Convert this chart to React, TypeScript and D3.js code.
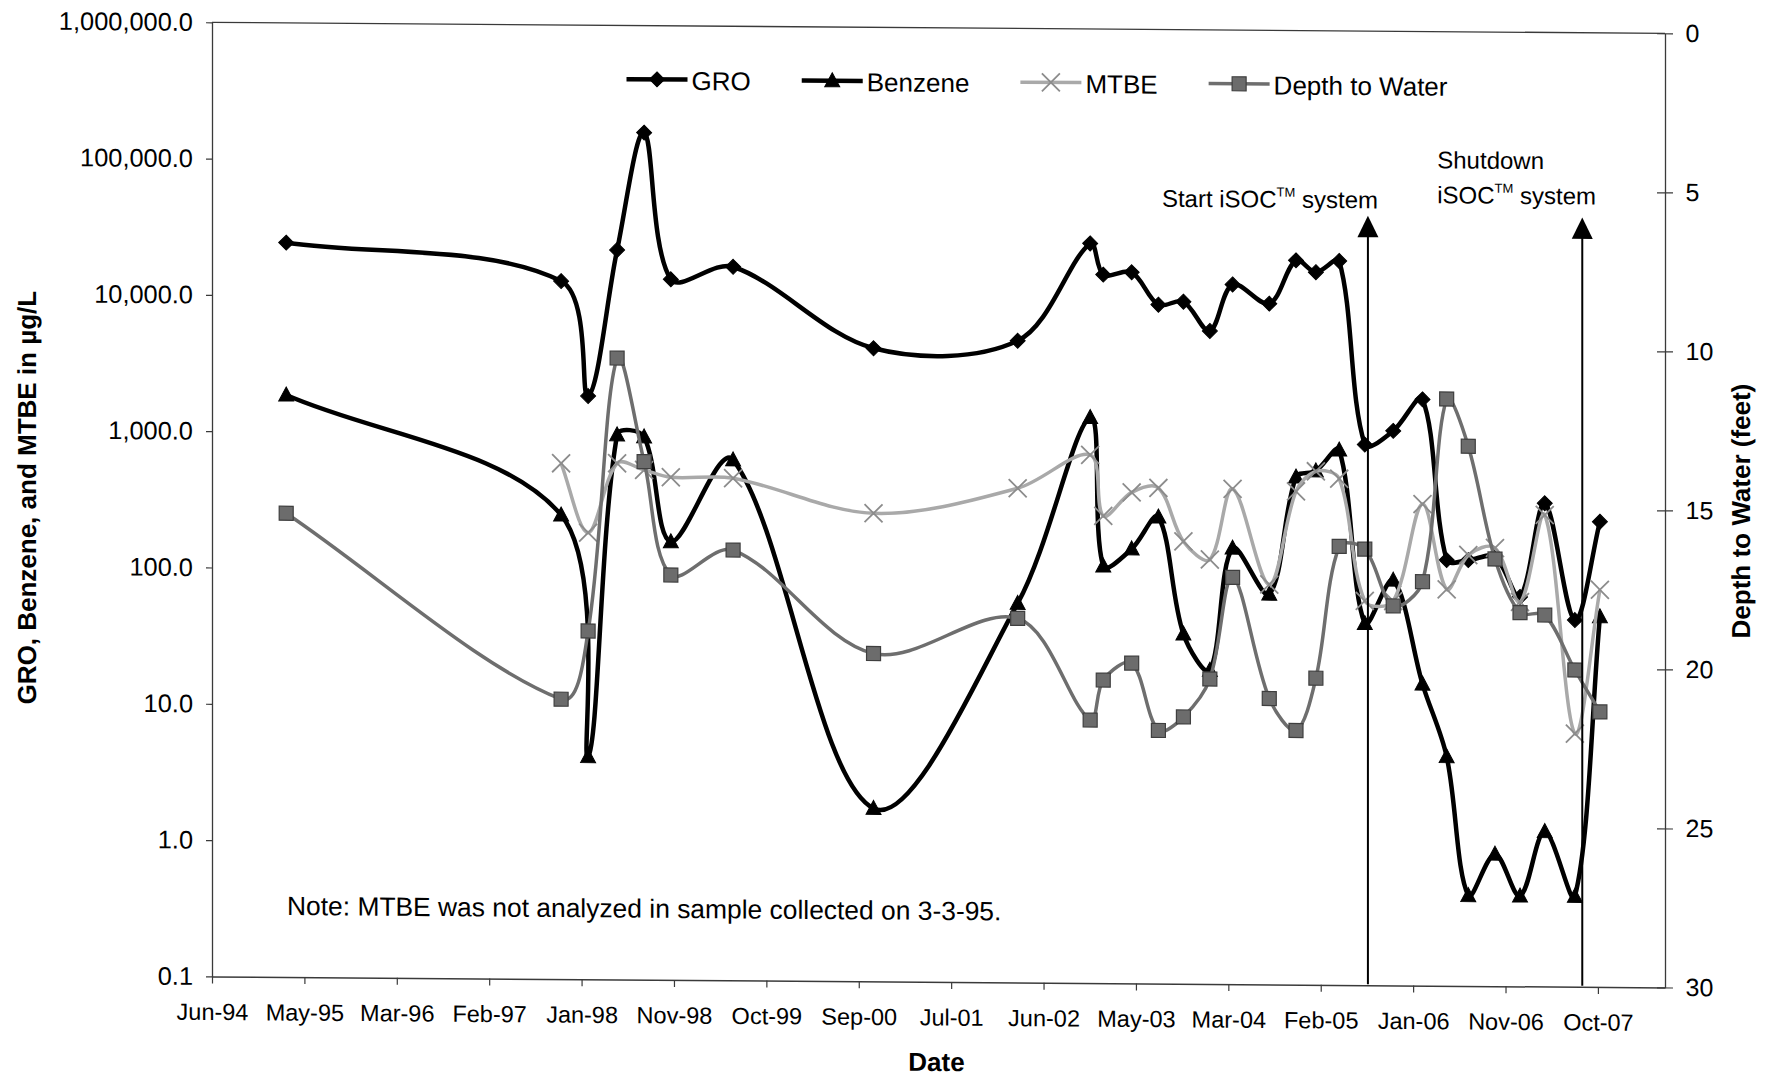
import { useEffect, useRef } from 'react';
import * as d3 from 'd3';

type Num = number | null;

// Monitoring events
const sampleDates = [
  '1995-03-03', '1997-10-25', '1998-01-28', '1998-05-10', '1998-08-13',
  '1998-11-15', '1999-06-22', '2000-10-28', '2002-03-19', '2002-11-29',
  '2003-01-14', '2003-04-24', '2003-07-27', '2003-10-23', '2004-01-24',
  '2004-04-13', '2004-08-20', '2004-11-22', '2005-01-31', '2005-04-23',
  '2005-07-22', '2005-10-30', '2006-02-10', '2006-05-06', '2006-07-21',
  '2006-10-23', '2007-01-19', '2007-04-16', '2007-07-31', '2007-10-27',
];

// ug/L
const groValues: Num[] = [
  24400, 13200, 1900, 22500, 164000, 13800, 17200, 4420, 5110, 26700,
  15800, 16500, 9570, 10100, 6180, 13600, 9880, 20600, 16900, 20500,
  925, 1170, 2000, 133, 133, 141, 72, 351, 49, 259,
];
const benzeneValues: Num[] = [
  1860, 254, 4.3, 990, 960, 164, 658, 1.86, 60.5, 1410,
  115, 154, 265, 36.8, 20, 158, 73, 530, 589, 841,
  45, 94, 16.3, 4.8, 0.46, 0.93, 0.46, 1.37, 0.46, 52,
];
// MTBE not analyzed on 3-3-95
const mtbeValues: Num[] = [
  null, 608, 189, 613, 549, 487, 483, 272, 423, 750,
  268, 400, 433, 176, 130, 430, 86, 416, 585, 518,
  66, 66, 341, 81, 145, 164, 66, 288, 7.2, 82,
];
// feet
const depthValues: Num[] = [
  15.42, 21.2, 19.05, 10.46, 13.71, 17.27, 16.47, 19.69, 18.55, 21.73,
  20.47, 19.93, 22.04, 21.61, 20.41, 17.21, 21.01, 22.01, 20.36, 16.21,
  16.29, 18.07, 17.3, 11.55, 13.03, 16.57, 18.25, 18.32, 20.04, 21.35,
];

const xTickLabels = [
  'Jun-94', 'May-95', 'Mar-96', 'Feb-97', 'Jan-98', 'Nov-98', 'Oct-99', 'Sep-00',
  'Jul-01', 'Jun-02', 'May-03', 'Mar-04', 'Feb-05', 'Jan-06', 'Nov-06', 'Oct-07',
];
const concTicks = [0.1, 1, 10, 100, 1000, 10000, 100000, 1000000];
const depthTicks = [0, 5, 10, 15, 20, 25, 30];

// iSOC start / shutdown
const eventDates = ['2005-08-02', '2007-08-26'];

// date axis settings (Excel-like: fixed min, major unit in days)
const AXIS_START = '1994-06-15';
const AXIS_END = '2008-06-12';
const TICK_STEP_DAYS = 325;

const W = 1770;
const H = 1077;
const M = { left: 212, top: 22.3, right: 1665, bottom: 976.4 };
const SKEW = 0.435; // the scanned original is slightly sheared
const FONT = '"Liberation Sans", Arial, Helvetica, sans-serif';
const AXIS_COLOR = '#3a3a3a';
const ARROW_TIP_Y = 207;

const MARKERS: Record<string, { d: string; fill: string; stroke: string; sw: number }> = {
  diamond: { d: 'M0,-7.5L7.5,0L0,7.5L-7.5,0Z', fill: '#000', stroke: '#000', sw: 1 },
  triangle: { d: 'M0,-8L7.5,6L-7.5,6Z', fill: '#000', stroke: '#000', sw: 1 },
  cross: { d: 'M-9,-9L9,9M-9,9L9,-9', fill: 'none', stroke: '#8c8c8c', sw: 1.8 },
  square: { d: 'M-7,-7H7V7H-7Z', fill: '#6c6c6c', stroke: '#3f3f3f', sw: 1.2 },
};

const SERIES = [
  { name: 'GRO', values: groValues, axis: 'conc', stroke: '#000', width: 4.5, marker: 'diamond' },
  { name: 'Benzene', values: benzeneValues, axis: 'conc', stroke: '#000', width: 4.5, marker: 'triangle' },
  { name: 'MTBE', values: mtbeValues, axis: 'conc', stroke: '#a9a9a9', width: 3.5, marker: 'cross' },
  { name: 'Depth to Water', values: depthValues, axis: 'depth', stroke: '#6e6e6e', width: 3.5, marker: 'square' },
];

// Excel-style smoothed line: Catmull-Rom tangents, split by neighbouring segment lengths
// so a short segment next to a long jump doesn't balloon out.
const smoothPath = (pts: [number, number][]) => {
  const n = pts.length;
  if (n < 2) return '';
  const f = 1 / 3;
  const ctrl = pts.map((p, i) => {
    const prev = pts[Math.max(0, i - 1)];
    const next = pts[Math.min(n - 1, i + 1)];
    const d01 = Math.hypot(p[0] - prev[0], p[1] - prev[1]);
    const d12 = Math.hypot(next[0] - p[0], next[1] - p[1]);
    const tx = next[0] - prev[0];
    const ty = next[1] - prev[1];
    const s = d01 + d12 || 1;
    return {
      cin: [p[0] - (tx * f * d01) / s, p[1] - (ty * f * d01) / s],
      cout: [p[0] + (tx * f * d12) / s, p[1] + (ty * f * d12) / s],
    };
  });
  let d = `M${pts[0][0]},${pts[0][1]}`;
  for (let i = 0; i < n - 1; i++) {
    const a = ctrl[i].cout;
    const b = ctrl[i + 1].cin;
    d += `C${a[0]},${a[1]},${b[0]},${b[1]},${pts[i + 1][0]},${pts[i + 1][1]}`;
  }
  return d;
};

const App = () => {
  const ref = useRef<SVGSVGElement | null>(null);

  useEffect(() => {
    document.body.style.margin = '0';
    if (!ref.current) return;
    const svg = d3.select(ref.current);
    svg.selectAll('*').remove();

    const parse = d3.timeParse('%Y-%m-%d');
    const axisStart = parse(AXIS_START) as Date;

    const x = d3.scaleTime()
      .domain([axisStart, parse(AXIS_END) as Date])
      .range([M.left, M.right]);
    const yConc = d3.scaleLog().domain([0.1, 1e6]).range([M.bottom, M.top]);
    const yDepth = d3.scaleLinear().domain([0, 30]).range([M.top, M.bottom]);

    const root = svg.append('g')
      .attr('transform', `translate(${M.left},${M.top}) skewY(${SKEW}) translate(${-M.left},${-M.top})`)
      .style('font-family', FONT);

    // top border of the plot area
    root.append('line')
      .attr('x1', M.left).attr('x2', M.right)
      .attr('y1', M.top).attr('y2', M.top)
      .attr('stroke', AXIS_COLOR).attr('stroke-width', 1.3);

    // X axis
    const tickDates = xTickLabels.map((_, i) => d3.timeDay.offset(axisStart, i * TICK_STEP_DAYS));
    const gx = root.append('g')
      .attr('transform', `translate(0,${M.bottom})`)
      .call(d3.axisBottom(x)
        .tickValues(tickDates)
        .tickFormat((_, i) => xTickLabels[i])
        .tickSizeInner(7)
        .tickSizeOuter(0));
    gx.attr('font-family', null).attr('font-size', null);
    gx.select('.domain').attr('stroke', AXIS_COLOR).attr('stroke-width', 1.5);
    gx.selectAll('.tick line').attr('stroke', AXIS_COLOR).attr('stroke-width', 1.2);
    gx.selectAll('.tick text')
      .attr('y', 43.6).attr('dy', 0).attr('fill', '#000')
      .style('font-size', '23.5px');

    // left (log) axis
    const gy = root.append('g')
      .attr('transform', `translate(${M.left},0)`)
      .call(d3.axisLeft(yConc)
        .tickValues(concTicks)
        .tickFormat(d => d3.format(',.1f')(d as number))
        .tickSizeInner(6)
        .tickSizeOuter(0)
        .tickPadding(13));
    gy.attr('font-family', null).attr('font-size', null);
    gy.select('.domain').attr('stroke', AXIS_COLOR).attr('stroke-width', 1.3);
    gy.selectAll('.tick line').attr('stroke', AXIS_COLOR).attr('stroke-width', 1.2);
    gy.selectAll('.tick text').attr('fill', '#000').style('font-size', '25.4px');

    // right (depth) axis, ticks cross the axis line
    const gr = root.append('g')
      .attr('transform', `translate(${M.right},0)`)
      .call(d3.axisRight(yDepth)
        .tickValues(depthTicks)
        .tickFormat(d3.format('d'))
        .tickSizeInner(8)
        .tickSizeOuter(0)
        .tickPadding(12.5));
    gr.attr('font-family', null).attr('font-size', null);
    gr.select('.domain').attr('stroke', AXIS_COLOR).attr('stroke-width', 1.3);
    gr.selectAll('.tick line').attr('x1', -8).attr('stroke', AXIS_COLOR).attr('stroke-width', 1.2);
    gr.selectAll('.tick text').attr('fill', '#000').style('font-size', '25px');

    // axis titles
    root.append('text')
      .attr('transform', 'translate(36.4,499) rotate(-90)')
      .attr('text-anchor', 'middle')
      .style('font-size', '26px').style('font-weight', 'bold')
      .text('GRO, Benzene, and MTBE in µg/L');
    root.append('text')
      .attr('transform', 'translate(1750,499.4) rotate(-90)')
      .attr('text-anchor', 'middle')
      .style('font-size', '26px').style('font-weight', 'bold')
      .text('Depth to Water (feet)');
    root.append('text')
      .attr('x', 936.5).attr('y', 1065.5)
      .attr('text-anchor', 'middle')
      .style('font-size', '26px').style('font-weight', 'bold')
      .text('Date');

    // series
    const drawMarker = (g: d3.Selection<SVGGElement, unknown, null, undefined>, kind: string, cx: number, cy: number) => {
      const m = MARKERS[kind];
      g.append('path')
        .attr('transform', `translate(${cx},${cy})`)
        .attr('d', m.d)
        .attr('fill', m.fill)
        .attr('stroke', m.stroke)
        .attr('stroke-width', m.sw);
    };

    SERIES.forEach(s => {
      const yS = s.axis === 'conc' ? yConc : yDepth;
      const g = root.append('g');
      // split into runs of measured values (gaps where not analyzed)
      const runs: [number, number][][] = [[]];
      sampleDates.forEach((d, i) => {
        const v = s.values[i];
        if (v == null) {
          if (runs[runs.length - 1].length) runs.push([]);
          return;
        }
        runs[runs.length - 1].push([x(parse(d) as Date), yS(v)]);
      });
      runs.filter(r => r.length > 1).forEach(r => {
        g.append('path')
          .attr('fill', 'none')
          .attr('stroke', s.stroke)
          .attr('stroke-width', s.width)
          .attr('stroke-linejoin', 'round')
          .attr('d', smoothPath(r));
      });
      runs.flat().forEach(p => drawMarker(g, s.marker, p[0], p[1]));
    });

    // legend
    const LEGEND_Y = 76;
    let lx = 626.5;
    SERIES.forEach(s => {
      const g = root.append('g');
      g.append('line')
        .attr('x1', lx).attr('x2', lx + 61)
        .attr('y1', LEGEND_Y).attr('y2', LEGEND_Y)
        .attr('stroke', s.stroke).attr('stroke-width', s.width);
      drawMarker(g, s.marker, lx + 30.5, LEGEND_Y);
      const t = g.append('text')
        .attr('x', lx + 65).attr('y', LEGEND_Y + 10.4)
        .style('font-size', '26px')
        .text(s.name);
      lx += 65 + (t.node() as SVGTextElement).getComputedTextLength() + 51;
    });

    // iSOC arrows
    const eventX = eventDates.map(d => x(parse(d) as Date));
    eventX.forEach(ex => {
      root.append('line')
        .attr('x1', ex).attr('x2', ex)
        .attr('y1', ARROW_TIP_Y + 20).attr('y2', M.bottom - 1)
        .attr('stroke', '#000').attr('stroke-width', 2);
      root.append('path')
        .attr('d', `M${ex},${ARROW_TIP_Y}L${ex + 10.5},${ARROW_TIP_Y + 21.5}L${ex - 10.5},${ARROW_TIP_Y + 21.5}Z`)
        .attr('fill', '#000');
    });

    const tmLabel = (tx: number, ty: number, before: string) => {
      const t = root.append('text')
        .attr('x', tx).attr('y', ty)
        .style('font-size', '24px')
        .style('white-space', 'pre');
      t.append('tspan').text(before);
      t.append('tspan').attr('dy', -11).style('font-size', '13px').text('TM');
      t.append('tspan').attr('dy', 11).text(' system');
    };
    tmLabel(eventX[0] - 206, 199.5, 'Start iSOC');
    root.append('text')
      .attr('x', eventX[1] - 145).attr('y', 159)
      .style('font-size', '24px')
      .text('Shutdown');
    tmLabel(eventX[1] - 145, 194, 'iSOC');

    // note
    root.append('text')
      .attr('x', 287).attr('y', 914.4)
      .style('font-size', '26.4px')
      .text('Note: MTBE was not analyzed in sample collected on 3-3-95.');

    return () => {
      svg.selectAll('*').remove();
    };
  }, []);

  return <svg ref={ref} width={W} height={H} style={{ display: 'block', background: '#fff' }} />;
};

export default App;
